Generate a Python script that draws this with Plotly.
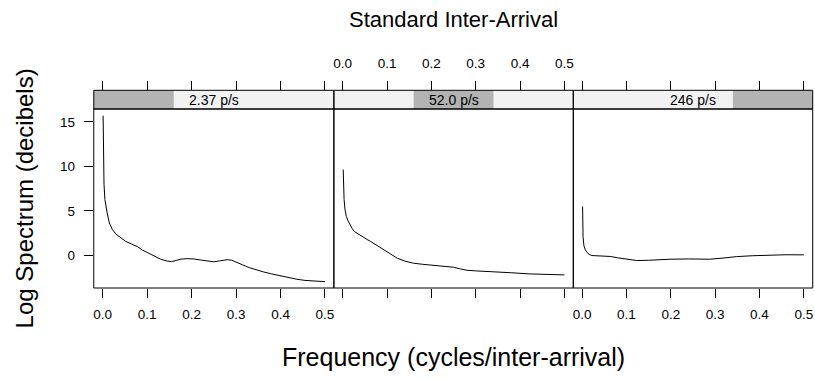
import plotly.graph_objects as go

# ---- data ----
panel_labels = ["2.37 p/s", "52.0 p/s", "246 p/s"]

freq_1 = [0.001, 0.0015, 0.002, 0.003, 0.005, 0.0075, 0.010, 0.015, 0.022, 0.03, 0.037,
          0.045, 0.052, 0.065, 0.078, 0.09, 0.10, 0.115, 0.13, 0.145, 0.155, 0.165, 0.176,
          0.19, 0.205, 0.22, 0.235, 0.25, 0.265, 0.28, 0.29, 0.30, 0.315, 0.33, 0.345,
          0.362, 0.38, 0.40, 0.42, 0.437, 0.455, 0.474, 0.50]
spec_1 = [15.7, 12.5, 10.2, 8.0, 6.3, 5.5, 4.8, 3.65, 2.9, 2.4, 2.14,
          1.8, 1.58, 1.3, 1.0, 0.6, 0.35, 0.0, -0.4, -0.62, -0.68, -0.55, -0.4,
          -0.35, -0.38, -0.5, -0.62, -0.7, -0.58, -0.47, -0.52, -0.7, -1.05, -1.36, -1.6,
          -1.84, -2.06, -2.29, -2.5, -2.66, -2.79, -2.88, -2.93]

freq_2 = [0.001, 0.002, 0.003, 0.005, 0.008, 0.012, 0.016, 0.021, 0.026, 0.035, 0.045,
          0.055, 0.063, 0.075, 0.086, 0.10, 0.112, 0.123, 0.14, 0.16, 0.18, 0.198, 0.215,
          0.235, 0.25, 0.265, 0.28, 0.30, 0.325, 0.348, 0.38, 0.422, 0.46, 0.50]
spec_2 = [9.65, 7.6, 6.3, 5.2, 4.4, 3.9, 3.5, 3.05, 2.7, 2.4, 2.1,
          1.8, 1.58, 1.2, 0.85, 0.4, 0.0, -0.3, -0.62, -0.86, -0.98, -1.05, -1.1,
          -1.2, -1.31, -1.5, -1.65, -1.72, -1.77, -1.82, -1.93, -2.06, -2.13, -2.17]

freq_3 = [0.001, 0.0015, 0.002, 0.004, 0.007, 0.011, 0.016, 0.022, 0.03, 0.045, 0.063,
          0.08, 0.10, 0.123, 0.15, 0.175, 0.198, 0.24, 0.288, 0.32, 0.348, 0.385, 0.422,
          0.46, 0.50]
spec_3 = [5.5, 3.4, 2.14, 1.1, 0.65, 0.35, 0.12, 0.0, -0.03, -0.04, -0.1,
          -0.25, -0.42, -0.56, -0.53, -0.45, -0.41, -0.38, -0.41, -0.27, -0.12, -0.02, 0.07,
          0.09, 0.08]

x_ticks = [0.0, 0.1, 0.2, 0.3, 0.4, 0.5]
x_tick_text = ["0.0", "0.1", "0.2", "0.3", "0.4", "0.5"]
y_ticks = [0, 5, 10, 15]

freqs = [freq_1, freq_2, freq_3]
specs = [spec_1, spec_2, spec_3]

# ---- layout geometry (pixels) ----
W, H = 815, 379
left_px = [93.0, 333.7, 573.7]
right_px = [333.7, 573.7, 813.7]
plot_top, plot_bot = 109.0, 288.0
strip_top = 90.3

def px(x):
    return x / W

def py(y):
    return 1 - y / H

FONT = "Liberation Sans, Arial, Helvetica, sans-serif"
xr = [-0.02, 0.52]
yr = [-3.64, 16.44]

fig = go.Figure()

for i in range(3):
    n = "" if i == 0 else str(i + 1)
    fig.add_trace(go.Scatter(x=freqs[i], y=specs[i], mode="lines",
                             line=dict(color="black", width=1),
                             xaxis="x" + n, yaxis="y" + n,
                             showlegend=False, hoverinfo="skip"))
    # hidden anchor trace for top axis
    fig.add_trace(go.Scatter(x=[0.25], y=[0], mode="markers",
                             marker=dict(opacity=0, size=1),
                             xaxis="x" + str(i + 4), yaxis="y" + n,
                             showlegend=False, hoverinfo="skip"))

axis_common = dict(range=xr, tickvals=x_ticks, ticktext=x_tick_text,
                   ticks="outside", ticklen=9, tickwidth=1, tickcolor="black",
                   showgrid=False, zeroline=False, showline=False,
                   tickfont=dict(family=FONT, size=13.5, color="black"))

layout = dict(width=W, height=H, margin=dict(l=0, r=0, t=0, b=0),
              paper_bgcolor="white", plot_bgcolor="white", showlegend=False)

for i in range(3):
    key = "xaxis" if i == 0 else "xaxis" + str(i + 1)
    ya = "y" if i == 0 else "y" + str(i + 1)
    layout[key] = dict(axis_common, domain=[px(left_px[i]), px(right_px[i])],
                       anchor=ya, showticklabels=(i != 1), ticklabelstandoff=5)
    yk = "yaxis" if i == 0 else "yaxis" + str(i + 1)
    ydict = dict(range=yr, domain=[py(plot_bot), py(plot_top)],
                 anchor="x" if i == 0 else "x" + str(i + 1),
                 showgrid=False, zeroline=False, showline=False)
    if i == 0:
        ydict.update(tickvals=y_ticks, ticks="outside", ticklen=9, tickwidth=1,
                     tickcolor="black", showticklabels=True, ticklabelstandoff=6,
                     tickfont=dict(family=FONT, size=13.5, color="black"))
    else:
        ydict.update(showticklabels=False, ticks="")
    layout[yk] = ydict
    # top axes
    tk = "xaxis" + str(i + 4)
    layout[tk] = dict(axis_common, overlaying="x" if i == 0 else "x" + str(i + 1),
                      side="top", anchor="free", position=py(strip_top),
                      ticklen=9, showticklabels=(i == 1), ticklabelstandoff=8)

fig.update_layout(**layout)

shapes = []
annotations = []
for i in range(3):
    x0, x1 = px(left_px[i]), px(right_px[i])
    # strip background
    shapes.append(dict(type="rect", xref="paper", yref="paper", x0=x0, x1=x1,
                       y0=py(plot_top), y1=py(strip_top), fillcolor="#F2F2F2",
                       line=dict(width=0), layer="below"))
    w = (right_px[i] - left_px[i]) / 3
    shapes.append(dict(type="rect", xref="paper", yref="paper",
                       x0=px(left_px[i] + i * w), x1=px(left_px[i] + (i + 1) * w),
                       y0=py(plot_top), y1=py(strip_top), fillcolor="#B3B3B3",
                       line=dict(width=0), layer="below"))
    shapes.append(dict(type="rect", xref="paper", yref="paper", x0=x0, x1=x1,
                       y0=py(plot_top), y1=py(strip_top),
                       line=dict(color="black", width=1)))
    shapes.append(dict(type="rect", xref="paper", yref="paper", x0=x0, x1=x1,
                       y0=py(plot_bot), y1=py(plot_top),
                       line=dict(color="black", width=1)))
    annotations.append(dict(text=panel_labels[i], xref="paper", yref="paper",
                            x=(x0 + x1) / 2, y=py((plot_top + strip_top) / 2),
                            showarrow=False, xanchor="center", yanchor="middle",
                            font=dict(family=FONT, size=14, color="black")))

annotations.append(dict(text="Standard Inter-Arrival", xref="paper", yref="paper",
                        x=px(453.5), y=py(20), showarrow=False,
                        xanchor="center", yanchor="middle",
                        font=dict(family=FONT, size=22, color="black")))
annotations.append(dict(text="Frequency (cycles/inter-arrival)", xref="paper", yref="paper",
                        x=px(453.5), y=py(357), showarrow=False,
                        xanchor="center", yanchor="middle",
                        font=dict(family=FONT, size=25, color="black")))
annotations.append(dict(text="Log Spectrum (decibels)", xref="paper", yref="paper",
                        x=px(24), y=py(198.5), showarrow=False, textangle=-90,
                        xanchor="center", yanchor="middle",
                        font=dict(family=FONT, size=24, color="black")))

fig.update_layout(shapes=shapes, annotations=annotations)
fig.write_html("out.html")
